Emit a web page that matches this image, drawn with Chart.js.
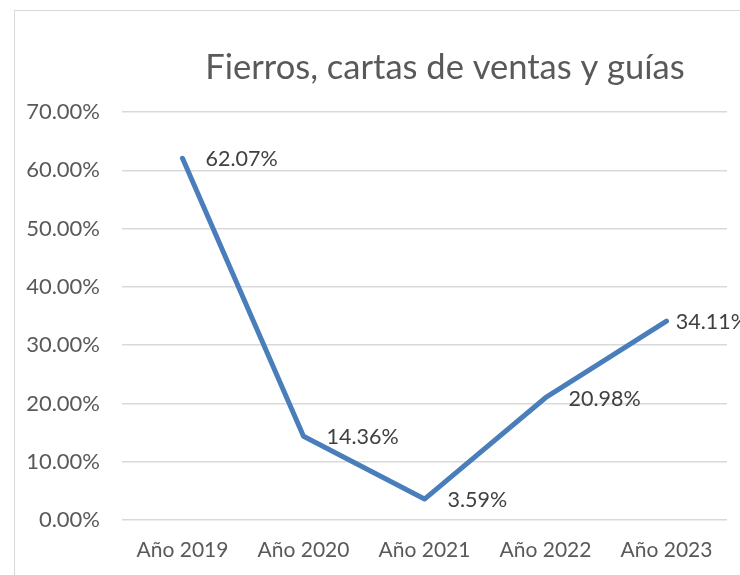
<!DOCTYPE html>
<html>
<head>
<meta charset="utf-8">
<script src="https://cdn.jsdelivr.net/npm/chart.js@4"></script>
<style>
  html, body { margin: 0; padding: 0; background: #fff; overflow: hidden; }
  #wrap { position: relative; width: 740px; height: 575px; }
  #frame { position: absolute; left: 14px; top: 10px; width: 800px; height: 700px; border: 1px solid #d9d9d9; box-sizing: border-box; }
  canvas { position: absolute; left: 0; top: 0; }
</style>
</head>
<body>
<div id="wrap">
  <div id="frame"></div>
  <canvas id="c" width="740" height="575"></canvas>
</div>
<script>
const title = 'Fierros, cartas de ventas y guías';
const categories = ['Año 2019', 'Año 2020', 'Año 2021', 'Año 2022', 'Año 2023'];
const values = [0.6207, 0.1436, 0.0359, 0.2098, 0.3411];
const yTicks = [0, 0.1, 0.2, 0.3, 0.4, 0.5, 0.6, 0.7];

const FONT = 'Lato';
const fmt = v => (v * 100).toFixed(2) + '%';

const titlePlugin = {
  id: 'xlTitle',
  afterDraw(chart) {
    const ctx = chart.ctx;
    ctx.save();
    ctx.font = '34.5px ' + FONT;
    ctx.fillStyle = '#595959';
    ctx.textAlign = 'center';
    ctx.textBaseline = 'middle';
    ctx.fillText(title, 445, 68);
    ctx.restore();
  }
};

const labelPlugin = {
  id: 'xlLabels',
  afterDatasetsDraw(chart) {
    const ctx = chart.ctx;
    const meta = chart.getDatasetMeta(0);
    ctx.save();
    ctx.font = '21.5px ' + FONT;
    ctx.fillStyle = '#404040';
    ctx.textAlign = 'left';
    ctx.textBaseline = 'middle';
    meta.data.forEach((pt, i) => {
      const txt = fmt(values[i]);
      const w = ctx.measureText(txt).width;
      let x = pt.x + 23;
      const limit = 748 - w;
      if (x > limit) x = Math.max(pt.x + 9, limit);
      ctx.fillText(txt, x, pt.y + 1);
    });
    ctx.restore();
  }
};

new Chart(document.getElementById('c'), {
  type: 'line',
  data: {
    labels: categories,
    datasets: [{
      data: values,
      borderColor: '#4a7ebb',
      borderWidth: 5,
      borderCapStyle: 'round',
      borderJoinStyle: 'round',
      pointRadius: 0,
      pointHoverRadius: 0,
      fill: false,
      tension: 0
    }]
  },
  options: {
    responsive: false,
    animation: false,
    events: [],
    layout: { padding: { top: 112, right: 13, left: 0, bottom: 0 } },
    plugins: {
      legend: { display: false },
      title: { display: false },
      tooltip: { enabled: false }
    },
    scales: {
      x: {
        offset: true,
        grid: { display: false, drawTicks: false },
        border: { display: false },
        ticks: { color: '#595959', font: { family: FONT, size: 21 }, padding: 18, maxRotation: 0 },
        afterFit(s) { s.height = 55; }
      },
      y: {
        min: 0,
        max: 0.7,
        afterBuildTicks(s) { s.ticks = yTicks.map(v => ({ value: v })); },
        grid: { color: '#d9d9d9', lineWidth: 1.5, drawTicks: false },
        border: { display: false },
        ticks: {
          color: '#595959',
          font: { family: FONT, size: 22 },
          padding: 22,
          callback: v => fmt(v)
        },
        afterFit(s) { s.width = 122; }
      }
    }
  },
  plugins: [titlePlugin, labelPlugin]
});
</script>
</body>
</html>
